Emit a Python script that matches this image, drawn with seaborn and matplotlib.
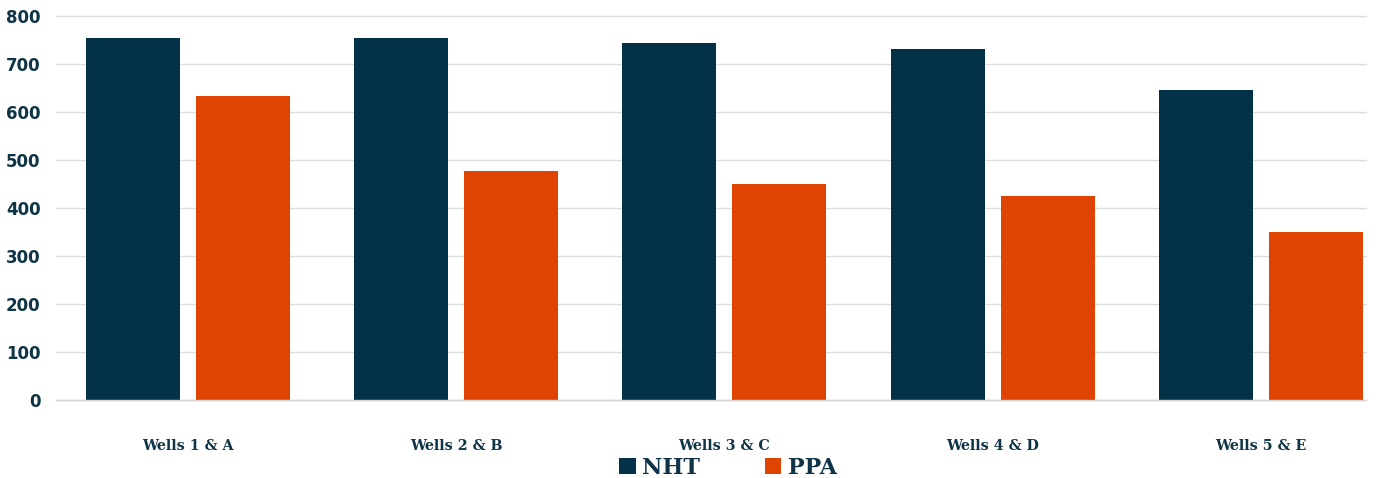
import matplotlib
matplotlib.use("Agg")
import matplotlib.pyplot as plt
import seaborn as sns
import pandas as pd

categories = ["Wells 1 & A", "Wells 2 & B", "Wells 3 & C", "Wells 4 & D", "Wells 5 & E"]
nht = [755, 755, 743, 732, 645]
ppa = [634, 478, 451, 426, 351]
series_names = ["NHT", "PPA"]
y_ticks = [0, 100, 200, 300, 400, 500, 600, 700, 800]

df = pd.DataFrame({
    "cat": categories * 2,
    "series": [series_names[0]] * len(nht) + [series_names[1]] * len(ppa),
    "value": nht + ppa,
})

sns.set_theme(style="white")
plt.rcParams["font.family"] = ["DejaVu Sans"]

navy = "#033148"
orange = "#e04403"
text_c = "#0f3448"

fig = plt.figure(figsize=(13.8, 4.78), dpi=100)
W, H = 1380, 478
ax = fig.add_axes([56 / W, 1 - 400 / H, (1366 - 56) / W, (400 - 16) / H])

sns.barplot(data=df, x="cat", y="value", hue="series", order=categories,
            hue_order=series_names, palette=[navy, orange], width=0.82,
            gap=0.146, saturation=1, ax=ax, legend=True, linewidth=0)

ax.set_xlim(-0.49, 4.39)
ax.set_ylim(0, 800)
ax.set_yticks(y_ticks)
ax.set_yticklabels([str(v) for v in y_ticks], fontsize=12, fontweight="bold",
                   color=text_c, family="DejaVu Sans")
ax.set_xticks(range(len(categories)))
ax.set_xticklabels(categories, fontsize=10.3, fontweight="bold", color=text_c,
                   family="DejaVu Serif")
ax.tick_params(axis="x", length=0, pad=28)
ax.tick_params(axis="y", length=0, pad=11)
ax.set_xlabel("")
ax.set_ylabel("")
ax.yaxis.grid(True, color="#dcdcdc", linewidth=1.0)
ax.set_axisbelow(True)
for s in ["top", "right", "left"]:
    ax.spines[s].set_visible(False)
ax.spines["bottom"].set_color("#d4d4d4")
ax.spines["bottom"].set_linewidth(1.0)
for gl in ax.get_ygridlines():
    gl.set_clip_on(False)

leg = ax.get_legend()
handles = leg.legend_handles
leg.remove()
fig.legend(handles, series_names, loc="center", bbox_to_anchor=(728 / W, 1 - 468 / H),
           ncol=2, frameon=False, handlelength=0.75, handleheight=0.75,
           handletextpad=0.3, columnspacing=2.9,
           prop={"family": "DejaVu Serif", "weight": "bold", "size": 16})
for t in fig.legends[0].get_texts():
    t.set_color(text_c)

fig.savefig("out.png", dpi=100)
